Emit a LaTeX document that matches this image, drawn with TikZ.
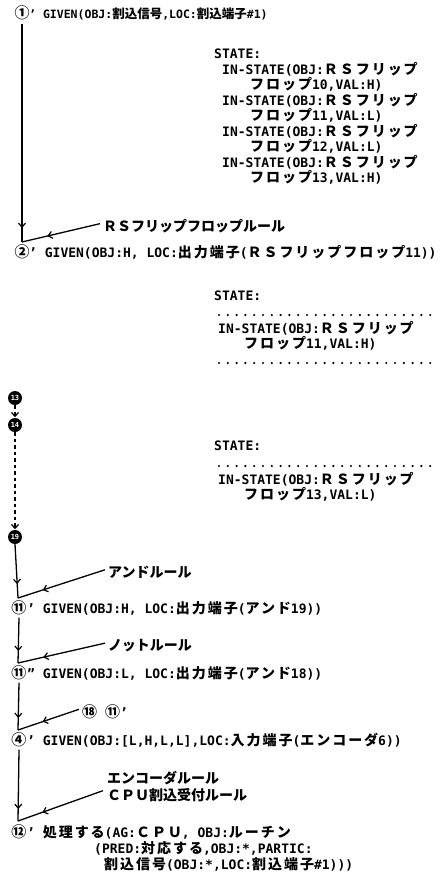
\documentclass[tikz,border=0pt]{standalone}
\usepackage{fontspec}
\setmainfont{DejaVu Sans Mono}[BoldFont={DejaVu Sans Mono Bold}]
\newfontfamily\jpf{Noto Sans CJK JP}[LetterSpace=14]
\newfontfamily\jpn{Noto Sans CJK JP}
\usetikzlibrary{arrows.meta,decorations.markings}
\newcommand\J[1]{{\jpf\fontsize{14}{16}\selectfont #1}}
\newcommand\Jr[1]{{\jpn\fontsize{14}{16}\selectfont #1}}
\newcommand\Js[1]{{\jpn\fontsize{12.5}{14}\selectfont #1}}
\newcommand\Cn[1]{{\jpn\fontsize{15}{16}\selectfont #1}}
\tikzset{
  txt/.style={inner sep=0pt, anchor=base west, font=\fontsize{13}{15}\selectfont\bfseries},
  txts/.style={inner sep=0pt, anchor=base west, font=\fontsize{11.5}{14}\selectfont\bfseries},
  num/.style={inner sep=0pt, anchor=base, font=\fontsize{15}{16}\selectfont\bfseries},
  blk/.style={circle, fill=black, inner sep=0pt, minimum size=14pt, text=white, font=\fontsize{7}{7}\selectfont\bfseries},
  link/.style={line width=1.3pt},
  barb/.style={postaction={decorate}, decoration={markings, mark=at position #1 with {\arrow{Straight Barb[length=4pt,width=7pt,line width=1.2pt]}}}},
  dashlink/.style={line width=1.2pt, dash pattern=on 3.5pt off 3pt, -{Straight Barb[length=4pt,width=7pt,line width=1.2pt]}, shorten >=0.5pt},
  dotrow/.style={line width=2.4pt, line cap=round, dash pattern=on 0pt off 8.8pt}
}
\begin{document}
\begin{tikzpicture}[x=1pt,y=-1pt]
\useasboundingbox (0,0) rectangle (447,878);
% step 1
\node[num] (c1) at (22,19) {\Cn{①}};
\node[txts] (t1) at (29,19) {' GIVEN(OBJ:\Js{割込信号},LOC:\Js{割込端子}\#1)};
\node[txt] (s1) at (214,58) {STATE:};
\node[txt] (s1a) at (222,74) {IN-STATE(OBJ:\J{ＲＳフリップ}};
\node[txt] (s1b) at (250,89) {\J{フロップ}10,VAL:H)};
\node[txt] (s1c) at (222,105) {IN-STATE(OBJ:\J{ＲＳフリップ}};
\node[txt] (s1d) at (250,120) {\J{フロップ}11,VAL:L)};
\node[txt] (s1e) at (222,136) {IN-STATE(OBJ:\J{ＲＳフリップ}};
\node[txt] (s1f) at (250,151) {\J{フロップ}12,VAL:L)};
\node[txt] (s1g) at (222,167) {IN-STATE(OBJ:\J{ＲＳフリップ}};
\node[txt] (s1h) at (250,182) {\J{フロップ}13,VAL:H)};
\node[txt] (r1) at (103,231) {\Jr{ＲＳフリップフロップルール}};
\coordinate (k1) at (22,242);
% step 2
\node[num] (c2) at (22,257) {\Cn{②}};
\node[txt] (t2) at (29,257) {' GIVEN(OBJ:H, LOC:\J{出力端子}(\J{ＲＳフリップフロップ}11))};
\node[txt] (s2) at (214,300) {STATE:};
\node[txt] (s2a) at (218,333) {IN-STATE(OBJ:\J{ＲＳフリップ}};
\node[txt] (s2b) at (244,348) {\J{フロップ}11,VAL:H)};
\draw[dotrow] (219,315) -- (431,315);
\draw[dotrow] (219,363) -- (431,363);
% dashed chain
\node[blk] (c13) at (15,398) {13};
\node[blk] (c14) at (15,425) {14};
\node[blk] (c19) at (15,537) {19};
\node[txt] (s3) at (214,450) {STATE:};
\draw[dotrow] (219,466) -- (431,466);
\node[txt] (s3a) at (218,484) {IN-STATE(OBJ:\J{ＲＳフリップ}};
\node[txt] (s3b) at (244,499) {\J{フロップ}13,VAL:L)};
% and rule
\node[txt] (r2) at (108,577) {\Jr{アンドルール}};
\coordinate (k2) at (18,598);
\node[num] (c11a) at (19,613) {\Cn{⑪}};
\node[txt] (t11a) at (27,613) {' GIVEN(OBJ:H, LOC:\J{出力端子}(\J{アンド}19))};
\node[txt] (r3) at (108,650) {\Jr{ノットルール}};
\coordinate (k3) at (18,663);
\node[num] (c11b) at (19,678) {\Cn{⑪}};
\node[txt] (t11b) at (27,678) {" GIVEN(OBJ:L, LOC:\J{出力端子}(\J{アンド}18))};
\node[txt] (r4) at (82,717) {\Cn{⑱} \Cn{⑪}'};
\coordinate (k4) at (18,730);
\node[num] (c4) at (19,745) {\Cn{④}};
\node[txt] (t4) at (27,745) {' GIVEN(OBJ:[L,H,L,L],LOC:\J{入力端子}(\J{エンコーダ}6))};
\node[txt] (r5) at (107,783) {\Jr{エンコーダルール}};
\node[txt] (r6) at (107,800) {\Jr{ＣＰＵ割込受付ルール}};
\coordinate (k5) at (18,821);
\node[num] (c12) at (19,837) {\Cn{⑫}};
\node[txt] (t12) at (27,837) {' \J{処理する}(AG:\J{ＣＰＵ}, OBJ:\J{ルーチン}};
\node[txt] (t12b) at (94,853) {(PRED:\J{対応する},OBJ:*,PARTIC:};
\node[txt] (t12c) at (104,869) {\J{割込信号}(OBJ:*,LOC:\J{割込端子}\#1)))};
% connectors
\draw[link, barb=-14pt] (c1.south) ++(0,3) -- (k1);
\draw[link, barb=-26pt] (r1.west) ++(-3,-2) -- (k1);
\draw[dashlink] (c13.south) -- (c14.north);
\draw[dashlink] (c14.south) -- (c19.north);
\draw[link, barb=-14pt] (c19.south) -- (k2);
\draw[link, barb=-26pt] (r2.west) ++(-3,-2) -- (k2);
\draw[link, barb=-12pt] (c11a.south) ++(0,3) -- (k3);
\draw[link, barb=-26pt] (r3.west) ++(-3,-2) -- (k3);
\draw[link, barb=-12pt] (c11b.south) ++(0,3) -- (k4);
\draw[link, barb=-26pt] (r4.west) ++(-3,-2) -- (k4);
\draw[link, barb=-12pt] (c4.south) ++(0,3) -- (k5);
\draw[link, barb=-26pt] (r6.west) ++(-4,-4) -- (k5);
\end{tikzpicture}
\end{document}
